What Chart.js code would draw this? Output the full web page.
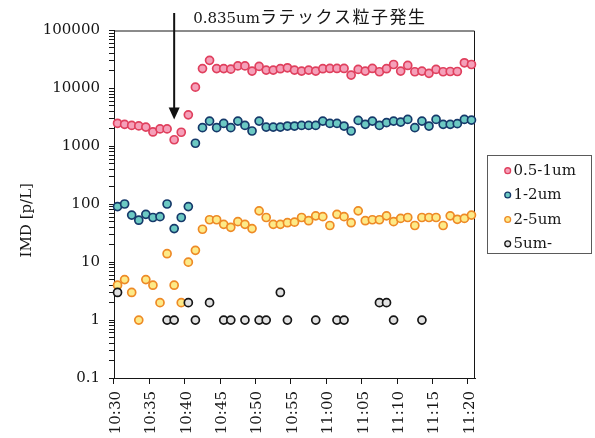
<!DOCTYPE html>
<html>
<head>
<meta charset="utf-8">
<script src="https://cdn.jsdelivr.net/npm/chart.js@4/dist/chart.umd.min.js"></script>
<style>
  html, body { margin: 0; padding: 0; background: #ffffff; }
  #wrap { width: 595px; height: 438px; }
</style>
</head>
<body>
<div id="wrap"><canvas id="c" width="595" height="438"></canvas></div>
<script>
// Sampling times (one reading per minute)
const times = [
  '10:30','10:31','10:32','10:33','10:34','10:35','10:36','10:37','10:38','10:39',
  '10:40','10:41','10:42','10:43','10:44','10:45','10:46','10:47','10:48','10:49',
  '10:50','10:51','10:52','10:53','10:54','10:55','10:56','10:57','10:58','10:59',
  '11:00','11:01','11:02','11:03','11:04','11:05','11:06','11:07','11:08','11:09',
  '11:10','11:11','11:12','11:13','11:14','11:15','11:16','11:17','11:18','11:19',
  '11:20'
];

// Particle counts per size band [p/L]
const pm05to1 = [2500,2400,2300,2250,2150,1770,2000,2000,1300,1750,3500,10500,22000,30500,22000,22000,21500,24500,24500,19900,24000,20700,20700,21900,22700,20700,19900,20700,19900,21900,22100,22100,22100,17000,21300,19900,22100,19400,21900,25900,19900,24900,19400,19900,18200,21300,19400,19600,19600,27700,25900];
const pm1to2 = [91,101,65,53,67,59,61,101,38,59,91,1130,2100,2730,2100,2490,2100,2730,2300,1840,2730,2150,2150,2150,2240,2240,2300,2300,2300,2730,2490,2490,2240,1840,2800,2400,2730,2300,2560,2730,2620,2920,2100,2730,2240,2920,2400,2400,2460,2920,2840];
const pm2to5 = [4,5,3,1,5,4,2,14,4,2,10,16,37,54,54,45,40,50,45,38,77,59,45,45,48,49,59,52,63,61,43,67,61,48,77,52,54,54,63,50,57,59,43,59,59,59,43,63,55,57,65];
const pm5up = [3,null,null,null,null,null,null,1,1,null,2,1,null,2,null,1,1,null,1,null,1,1,null,3,1,null,null,null,1,null,null,1,1,null,null,null,null,2,2,1,null,null,null,1,null,null,null,null,null,null,null];

const seriesNames = ['0.5-1um', '1-2um', '2-5um', '5um-'];

// Y axis decades that carry a label
const yDecades = [0.1, 1, 10, 100, 1000, 10000, 100000];

// Annotation: latex particle release
const releaseTime = '10:38';
const releaseArrowTip = 2900;
const releaseNumber = '0.835um';
const releaseText = 'ラテックス粒子発生';

const axisTitle = 'IMD [p/L]';

const INK = '#161616';
const FONT = "'DejaVu Serif', 'Noto Sans CJK JP', serif";

const styles = [
  { fill: '#f5a0b9', stroke: '#e0405e' },
  { fill: '#6cc9c3', stroke: '#16396a' },
  { fill: '#fdea88', stroke: '#ee8a26' },
  { fill: '#e2e2e2', stroke: '#161616' }
];
const seriesData = [pm05to1, pm1to2, pm2to5, pm5up];

const datasets = seriesData.map((d, k) => ({
  label: seriesNames[k],
  data: d,
  showLine: false,
  pointRadius: 4,
  pointHoverRadius: 4,
  pointBorderWidth: 1.7,
  pointBackgroundColor: styles[k].fill,
  pointBorderColor: styles[k].stroke,
  backgroundColor: styles[k].fill,
  borderColor: styles[k].stroke,
  order: seriesData.length - k,
  clip: false
}));

// Frame, axis title, legend box and release annotation
const decorations = {
  id: 'decorations',
  beforeDatasetsDraw(chart) {
    const { ctx, chartArea: a } = chart;
    ctx.save();
    ctx.strokeStyle = INK;
    ctx.lineWidth = 1;
    ctx.beginPath();
    ctx.moveTo(a.left, a.top + 0.5);
    ctx.lineTo(a.right - 0.5, a.top + 0.5);
    ctx.lineTo(a.right - 0.5, a.bottom);
    ctx.stroke();
    ctx.restore();
  },
  afterDraw(chart) {
    const { ctx, chartArea: a, scales } = chart;
    ctx.save();

    // y axis title
    ctx.fillStyle = INK;
    ctx.font = '15px ' + FONT;
    ctx.textAlign = 'center';
    ctx.textBaseline = 'middle';
    ctx.translate(27, (a.top + a.bottom) / 2 + 16);
    ctx.rotate(-Math.PI / 2);
    ctx.fillText(axisTitle, 0, 0);
    ctx.setTransform(1, 0, 0, 1, 0, 0);

    // legend
    const boxL = a.right + 12, boxR = a.right + 116;
    const midY = (a.top + a.bottom) / 2;
    const boxT = midY - 49, boxB = midY + 49;
    ctx.strokeStyle = '#5a5a5a';
    ctx.lineWidth = 1;
    ctx.strokeRect(Math.round(boxL) + 0.5, Math.round(boxT) + 0.5, boxR - boxL, boxB - boxT);
    const rowGap = 24.4;
    chart.data.datasets.forEach((ds, k) => {
      const y = midY + 3 + (k - 1.5) * rowGap;
      ctx.beginPath();
      ctx.arc(a.right + 32.7, y, 2.9, 0, Math.PI * 2);
      ctx.fillStyle = ds.backgroundColor;
      ctx.fill();
      ctx.lineWidth = 1.3;
      ctx.strokeStyle = ds.borderColor;
      ctx.stroke();
      ctx.fillStyle = INK;
      ctx.font = '15px ' + FONT;
      ctx.textAlign = 'left';
      ctx.textBaseline = 'middle';
      ctx.fillText(ds.label, a.right + 38.5, y + 0.5);
    });

    // release arrow
    const ax = scales.x.getPixelForValue(times.indexOf(releaseTime));
    const tip = scales.y.getPixelForValue(releaseArrowTip);
    ctx.strokeStyle = '#111111';
    ctx.fillStyle = '#111111';
    ctx.lineWidth = 2;
    ctx.beginPath();
    ctx.moveTo(ax, 13);
    ctx.lineTo(ax, tip - 10);
    ctx.stroke();
    ctx.beginPath();
    ctx.moveTo(ax - 5.5, tip - 12);
    ctx.lineTo(ax + 5.5, tip - 12);
    ctx.lineTo(ax, tip);
    ctx.closePath();
    ctx.fill();

    // release label
    ctx.fillStyle = INK;
    ctx.textAlign = 'left';
    ctx.textBaseline = 'alphabetic';
    ctx.font = '15px ' + FONT;
    const tx = ax + 19;
    ctx.fillText(releaseNumber, tx, 23);
    const w = ctx.measureText(releaseNumber).width;
    ctx.font = "17px 'Noto Sans CJK JP', " + FONT;
    if ('letterSpacing' in ctx) ctx.letterSpacing = '1.5px';
    ctx.fillText(releaseText, tx + w, 23);
    ctx.restore();
  }
};

new Chart(document.getElementById('c'), {
  type: 'line',
  data: { labels: times, datasets },
  options: {
    responsive: false,
    animation: false,
    events: [],
    layout: { padding: { left: 0, right: 120, top: 30.5, bottom: 0 } },
    plugins: { legend: { display: false }, tooltip: { enabled: false }, title: { display: false } },
    scales: {
      x: {
        type: 'category',
        offset: true,
        grid: {
          offset: true,
          drawOnChartArea: false,
          drawTicks: true,
          tickLength: 6,
          tickWidth: 1,
          tickColor: (c) => (c.index % 5 === 0 ? INK : 'rgba(0,0,0,0)')
        },
        border: { color: INK, width: 1 },
        ticks: {
          autoSkip: false,
          maxRotation: 90,
          minRotation: 90,
          padding: 7,
          labelOffset: -1.5,
          color: INK,
          font: { family: FONT, size: 15 },
          callback: (v, i) => (i % 5 === 0 ? times[i] : '')
        },
        afterFit: (s) => { s.height = 60; }
      },
      y: {
        type: 'logarithmic',
        min: 0.1,
        max: 100000,
        afterBuildTicks: (s) => {
          const t = [];
          yDecades.forEach((d, k) => {
            if (k === yDecades.length - 1) { t.push({ value: d }); return; }
            for (let m = 1; m <= 9; m++) t.push({ value: m * d });
          });
          s.ticks = t;
        },
        grid: { drawOnChartArea: false, drawTicks: true, tickLength: 5, tickColor: INK },
        border: { color: INK, width: 1 },
        ticks: {
          autoSkip: false,
          padding: 9,
          color: INK,
          font: { family: FONT, size: 15 },
          callback: (v) => (yDecades.includes(v) ? String(v) : '')
        },
        afterFit: (s) => { s.width = 114; }
      }
    }
  },
  plugins: [decorations]
});
</script>
</body>
</html>
